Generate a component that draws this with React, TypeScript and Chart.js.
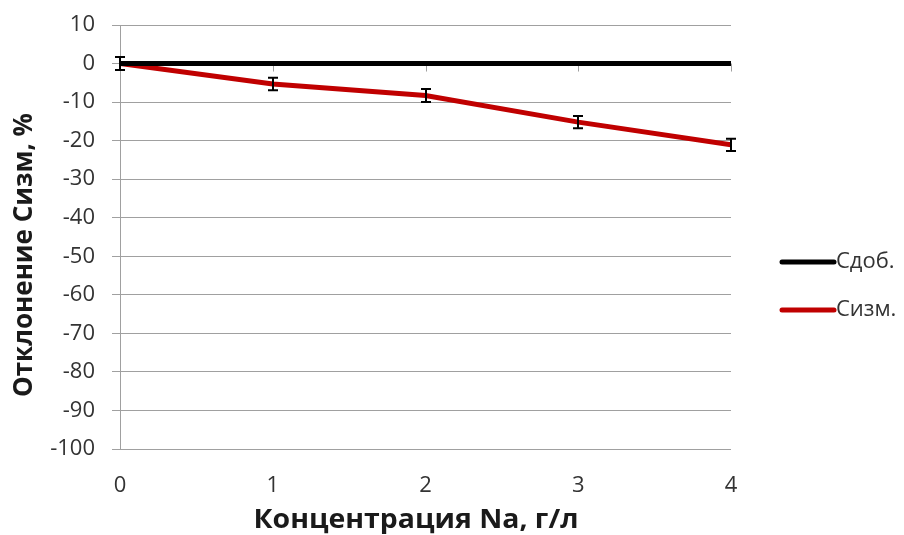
import React, { useEffect, useRef } from 'react';
import { Chart, registerables } from 'chart.js';

Chart.register(...registerables);

// Concentration of Na, g/l
const concentrations = [0, 1, 2, 3, 4];
// Deviation of the added concentration (reference line)
const cdobValues = [0, 0, 0, 0, 0];
// Deviation of the measured concentration, %
const cizmValues = [0, -5.3, -8.3, -15.2, -21.1];
// Error bar half-widths for the measured series
const cizmErrors = [1.7, 1.6, 1.7, 1.6, 1.6];

const seriesNames = ['Сдоб.', 'Сизм.'];
const xTitle = 'Концентрация Na, г/л';
const yTitle = 'Отклонение Сизм, %';

const FONT = '"Open Sans", "Noto Sans", sans-serif';
const TEXT = '#333333';
const TITLE = '#1a1a1a';
const GRID = '#a0a0a0';
const BLACK = '#000000';
const RED = '#c00000';

const extras = {
  id: 'extras',
  beforeDatasetsDraw(chart: any) {
    const { ctx, scales } = chart;
    const x = scales.x;
    const y = scales.y;
    const y0 = y.getPixelForValue(0);
    ctx.save();
    ctx.strokeStyle = GRID;
    ctx.lineWidth = 1;
    // horizontal axis crossing at zero with short outward tick marks
    ctx.beginPath();
    ctx.moveTo(x.left, Math.round(y0) + 0.5);
    ctx.lineTo(x.right, Math.round(y0) + 0.5);
    concentrations.forEach((c) => {
      if (c === 0) return;
      const px = Math.round(x.getPixelForValue(c)) + 0.5;
      ctx.moveTo(px, y0);
      ctx.lineTo(px, y0 + 8);
    });
    ctx.stroke();
    ctx.restore();
  },
  afterDatasetsDraw(chart: any) {
    const { ctx, scales } = chart;
    const x = scales.x;
    const y = scales.y;
    ctx.save();
    ctx.strokeStyle = BLACK;
    ctx.lineWidth = 2;
    cizmValues.forEach((v, i) => {
      const px = Math.round(x.getPixelForValue(concentrations[i]));
      const top = y.getPixelForValue(v + cizmErrors[i]);
      const bot = y.getPixelForValue(v - cizmErrors[i]);
      ctx.beginPath();
      ctx.moveTo(px, top);
      ctx.lineTo(px, bot);
      ctx.moveTo(px - 5, top);
      ctx.lineTo(px + 5, top);
      ctx.moveTo(px - 5, bot);
      ctx.lineTo(px + 5, bot);
      ctx.stroke();
    });
    ctx.restore();
  },
  afterDraw(chart: any) {
    const { ctx } = chart;
    ctx.save();
    ctx.fillStyle = TITLE;
    ctx.font = `bold 26px ${FONT}`;
    ctx.textAlign = 'center';
    ctx.textBaseline = 'middle';
    // x axis title, widened slightly
    const w = ctx.measureText(xTitle).width;
    const sx = 325 / w;
    ctx.save();
    ctx.translate(416, 521);
    ctx.scale(sx, 1);
    ctx.fillText(xTitle, 0, 0);
    ctx.restore();
    // y axis title
    ctx.save();
    ctx.translate(25, 255);
    ctx.rotate(-Math.PI / 2);
    ctx.fillText(yTitle, 0, 0);
    ctx.restore();

    // legend
    const colors = [BLACK, RED];
    const rows = [262, 310];
    ctx.font = `22px ${FONT}`;
    ctx.textAlign = 'left';
    seriesNames.forEach((name, i) => {
      ctx.strokeStyle = colors[i];
      ctx.lineWidth = 5;
      ctx.lineCap = 'round';
      ctx.beginPath();
      ctx.moveTo(782, rows[i]);
      ctx.lineTo(834, rows[i]);
      ctx.stroke();
      ctx.fillStyle = TEXT;
      ctx.fillText(name, 836, rows[i]);
    });
    ctx.restore();
  },
};

export default function App() {
  const ref = useRef<HTMLCanvasElement | null>(null);

  useEffect(() => {
    if (!ref.current) return;
    const chart = new Chart(ref.current, {
      type: 'line',
      data: {
        datasets: [
          {
            label: seriesNames[1],
            data: concentrations.map((c, i) => ({ x: c, y: cizmValues[i] })),
            borderColor: RED,
            backgroundColor: RED,
            borderWidth: 5,
            borderCapStyle: 'round',
            pointRadius: 0,
            tension: 0,
            order: 2,
          },
          {
            label: seriesNames[0],
            data: concentrations.map((c, i) => ({ x: c, y: cdobValues[i] })),
            borderColor: BLACK,
            backgroundColor: BLACK,
            borderWidth: 5,
            borderCapStyle: 'round',
            pointRadius: 0,
            tension: 0,
            order: 1,
          },
        ],
      },
      options: {
        animation: false,
        responsive: false,
        devicePixelRatio: 1,
        layout: { padding: { top: 25, right: 173, left: 0, bottom: 0 } },
        plugins: {
          legend: { display: false },
          tooltip: { enabled: false },
        },
        scales: {
          x: {
            type: 'linear',
            min: 0,
            max: 4,
            afterFit: (s: any) => {
              s.height = 86;
              s.paddingLeft = 0;
              s.paddingRight = 0;
            },
            grid: { display: false, drawTicks: false },
            border: { display: false },
            ticks: {
              stepSize: 1,
              padding: 24,
              color: TEXT,
              font: { family: FONT, size: 22 },
            },
          },
          y: {
            type: 'linear',
            min: -100,
            max: 10,
            afterFit: (s: any) => {
              s.width = 120;
              s.paddingTop = 0;
              s.paddingBottom = 0;
            },
            grid: { color: GRID, lineWidth: 1, tickLength: 8, drawTicks: true },
            border: { display: true, color: GRID, width: 1 },
            ticks: {
              stepSize: 10,
              padding: 17,
              color: TEXT,
              font: { family: FONT, size: 22 },
            },
          },
        },
      },
      plugins: [extras],
    });
    return () => chart.destroy();
  }, []);

  return (
    <div style={{ position: 'absolute', left: 0, top: 0, width: 904, height: 535, background: '#fff' }}>
      <canvas ref={ref} width={904} height={535} style={{ width: 904, height: 535, display: 'block' }} />
    </div>
  );
}
